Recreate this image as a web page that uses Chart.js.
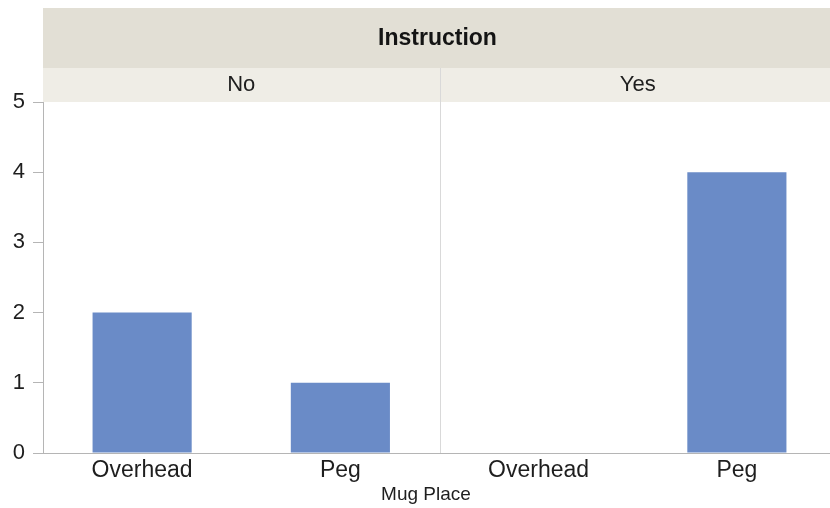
<!DOCTYPE html>
<html>
<head>
<meta charset="utf-8">
<script src="https://cdn.jsdelivr.net/npm/chart.js@4"></script>
<style>
  html, body { margin: 0; padding: 0; background: #ffffff; overflow: hidden; }
  #wrap { width: 836px; height: 508px; }
</style>
</head>
<body>
<div id="wrap"><canvas id="c" width="836" height="508"></canvas></div>
<script>
// ---- data ----
const categories = ["Overhead", "Peg", "Overhead", "Peg"];
const counts = [2, 1, 0, 4];
const panelLabels = ["No", "Yes"];
const groupTitle = "Instruction";
const xTitle = "Mug Place";
const yTicks = [0, 1, 2, 3, 4, 5];

const FONT = "'Liberation Sans', Arial, Helvetica, sans-serif";

const facetPlugin = {
  id: 'facet',
  beforeDraw(chart) {
    const ctx = chart.ctx;
    const a = chart.chartArea;
    const W = chart.width;
    ctx.save();
    ctx.fillStyle = '#ffffff';
    ctx.fillRect(0, 0, W, chart.height);
    // header bands
    ctx.fillStyle = '#e2dfd5';
    ctx.fillRect(a.left, 8, W - a.left, 60);
    ctx.fillStyle = '#efede6';
    ctx.fillRect(a.left, 68, W - a.left, a.top - 68);
    // title
    ctx.fillStyle = '#141414';
    ctx.font = "bold 23px " + FONT;
    ctx.textAlign = 'center';
    ctx.textBaseline = 'middle';
    ctx.fillText(groupTitle, (a.left + W) / 2 - 2, 39);
    // panel labels
    const xs = chart.scales.x;
    const n = categories.length / panelLabels.length;
    const step = xs.getPixelForValue(1) - xs.getPixelForValue(0);
    ctx.font = "22px " + FONT;
    ctx.fillStyle = '#1e1e1e';
    for (let p = 0; p < panelLabels.length; p++) {
      const l = xs.getPixelForValue(p * n) - step / 2;
      const r = xs.getPixelForValue(p * n + n - 1) + step / 2;
      ctx.fillText(panelLabels[p], (l + r) / 2, 85);
    }
    ctx.restore();
  },
  afterDatasetsDraw(chart) {
    const ctx = chart.ctx;
    const a = chart.chartArea;
    const xs = chart.scales.x;
    const n = categories.length / panelLabels.length;
    const step = xs.getPixelForValue(1) - xs.getPixelForValue(0);
    ctx.save();
    ctx.strokeStyle = '#d9d9d9';
    ctx.lineWidth = 1;
    for (let p = 1; p < panelLabels.length; p++) {
      const x = Math.round(xs.getPixelForValue(p * n) - step / 2) + 0.5;
      ctx.beginPath();
      ctx.moveTo(x, 68);
      ctx.lineTo(x, a.bottom);
      ctx.stroke();
    }
    ctx.restore();
  },
  afterDraw(chart) {
    const ctx = chart.ctx;
    ctx.save();
    ctx.fillStyle = '#1e1e1e';
    ctx.font = "19px " + FONT;
    ctx.textAlign = 'center';
    ctx.textBaseline = 'middle';
    ctx.fillText(xTitle, 426, 495);
    ctx.restore();
  }
};

new Chart(document.getElementById('c'), {
  type: 'bar',
  data: {
    labels: categories,
    datasets: [{
      data: counts,
      backgroundColor: '#6a8bc7',
      borderWidth: 0,
      categoryPercentage: 0.5,
      barPercentage: 1.0
    }]
  },
  options: {
    responsive: false,
    animation: false,
    devicePixelRatio: 1,
    layout: { padding: { top: 102, right: 0, bottom: 0, left: 0 } },
    plugins: { legend: { display: false }, tooltip: { enabled: false }, title: { display: false } },
    scales: {
      x: {
        grid: { display: false, drawTicks: false },
        border: { display: true, color: '#b5b5b5', width: 1 },
        ticks: { color: '#1e1e1e', font: { family: FONT, size: 23 }, padding: 4, maxRotation: 0, autoSkip: false },
        afterFit(scale) { scale.height = 55; }
      },
      y: {
        min: 0, max: 5,
        afterBuildTicks(scale) { scale.ticks = yTicks.map(v => ({ value: v })); },
        grid: { display: true, drawOnChartArea: false, drawTicks: true, tickLength: 10, color: '#b5b5b5' },
        border: { display: true, color: '#b5b5b5', width: 1 },
        ticks: { color: '#1e1e1e', font: { family: FONT, size: 22 }, padding: 8 },
        afterFit(scale) { scale.width = 43; }
      }
    }
  },
  plugins: [facetPlugin]
});
</script>
</body>
</html>
